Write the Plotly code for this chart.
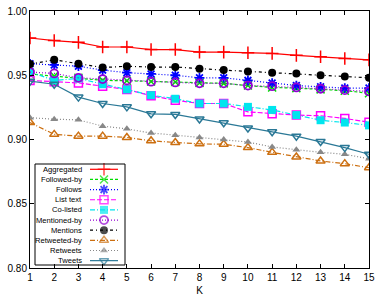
import plotly.graph_objects as go

K = list(range(1, 16))

aggregated   = [0.979, 0.977, 0.9756, 0.972, 0.972, 0.970, 0.970, 0.968, 0.968, 0.9675, 0.967, 0.9655, 0.9644, 0.963, 0.962]
followed_by  = [0.951, 0.9493, 0.948, 0.946, 0.9457, 0.9452, 0.9447, 0.944, 0.9437, 0.942, 0.9405, 0.940, 0.939, 0.938, 0.936]
follows      = [0.959, 0.958, 0.957, 0.954, 0.952, 0.951, 0.950, 0.948, 0.948, 0.946, 0.944, 0.942, 0.941, 0.940, 0.940]
list_text    = [0.946, 0.945, 0.944, 0.9415, 0.939, 0.934, 0.9306, 0.928, 0.928, 0.9215, 0.920, 0.919, 0.9185, 0.9164, 0.9135]
co_listed    = [0.9525, 0.946, 0.9475, 0.943, 0.939, 0.9345, 0.9317, 0.928, 0.928, 0.9254, 0.923, 0.919, 0.915, 0.9132, 0.911]
mentioned_by = [0.9525, 0.9514, 0.948, 0.947, 0.946, 0.945, 0.9444, 0.9437, 0.9437, 0.942, 0.9415, 0.9405, 0.9395, 0.9384, 0.9374]
mentions     = [0.9587, 0.962, 0.959, 0.956, 0.957, 0.9564, 0.9564, 0.955, 0.954, 0.953, 0.952, 0.9514, 0.950, 0.949, 0.948]
retweeted_by = [0.9132, 0.904, 0.9026, 0.9026, 0.9016, 0.899, 0.8977, 0.8966, 0.8963, 0.8937, 0.890, 0.8864, 0.8833, 0.8812, 0.878]
retweets     = [0.917, 0.9158, 0.9153, 0.9104, 0.9083, 0.905, 0.9034, 0.9016, 0.900, 0.898, 0.8942, 0.892, 0.890, 0.8885, 0.885]
tweets       = [0.9454, 0.943, 0.933, 0.928, 0.9254, 0.920, 0.9195, 0.916, 0.913, 0.909, 0.906, 0.9026, 0.8984, 0.8937, 0.8885]

y_ticks = [0.80, 0.85, 0.90, 0.95, 1.00]
y_tick_labels = ["0.80", "0.85", "0.90", "0.95", "1.00"]

series = [
    ("Aggregated",   aggregated,   "#ff0000", "solid",   "cross-thin-open",     9, 1.5),
    ("Followed-by",  followed_by,  "#00dd00", "3px,2px", "x-thin-open",         8, 1.5),
    ("Follows",      follows,      "#0000ff", "1px,2px", "asterisk-open",       8, 1.8),
    ("List text",    list_text,    "#ff00ff", "5px,2px", "square-open",         8, 1.5),
    ("Co-listed",    co_listed,    "#00e5ee", "5px,2px,1px,2px", "square",      8, 0),
    ("Mentioned-by", mentioned_by, "#9400d3", "1px,2px", "circle-open",         8, 1.8),
    ("Mentions",     mentions,     "#000000", "3px,3px,1px,3px", "circle",      8, 0),
    ("Retweeted-by", retweeted_by, "#cc6f10", "5px,2px,1px,2px", "triangle-up-open", 8, 1.5),
    ("Retweets",     retweets,     "#888888", "1px,2px", "triangle-up",         7, 0),
    ("Tweets",       tweets,       "#2a7896", "solid",   "triangle-down-open",  8, 1.5),
]

fig = go.Figure()
for name, vals, color, dash, sym, size, mlw in series:
    fig.add_trace(go.Scatter(
        x=K, y=vals, mode="lines+markers", name=name, showlegend=False,
        line=dict(color=color, width=1.2, dash=dash),
        marker=dict(symbol=sym, size=size, color=color, line=dict(color=color, width=mlw)),
    ))

# custom gnuplot-style legend (text right, sample on the right)
row_y0 = (268 - 169.3) / 257
row_dy = 10.15 / 257
sx0, sx1 = (90 - 30) / 339, (118 - 30) / 339
smid = (sx0 + sx1) / 2
text_x = (84 - 30) / 339
for i, (name, vals, color, dash, sym, size, mlw) in enumerate(series):
    yy = row_y0 - i * row_dy
    fig.add_trace(go.Scatter(
        x=[sx0, smid, sx1], y=[yy, yy, yy], xaxis="x2", yaxis="y2",
        mode="lines+markers", showlegend=False, hoverinfo="skip",
        line=dict(color=color, width=1.2, dash=dash),
        marker=dict(symbol=sym, size=[0, size, 0], color=color, line=dict(color=color, width=mlw)),
    ))
    fig.add_annotation(x=text_x, y=yy, xref="paper", yref="paper", text=name,
                       showarrow=False, xanchor="right", yanchor="middle",
                       font=dict(size=7.6, color="#000000", family="Liberation Sans, Arial, sans-serif"))

fig.add_shape(type="rect", xref="paper", yref="paper",
              x0=(35 - 30) / 339, x1=(125 - 30) / 339,
              y0=(268 - 265) / 257, y1=(268 - 164) / 257,
              line=dict(color="#000000", width=1), fillcolor="rgba(0,0,0,0)")

axis_common = dict(showgrid=False, zeroline=False, showline=True, linecolor="#000000",
                   linewidth=1, mirror="ticks", ticks="inside", ticklen=4, automargin=False,
                   tickcolor="#000000", tickfont=dict(size=10, color="#000000"))

fig.update_layout(
    width=389, height=305,
    margin=dict(l=30, r=20, t=11, b=37),
    paper_bgcolor="white", plot_bgcolor="white",
    font=dict(family="Liberation Sans, Arial, sans-serif", size=10, color="#000000"),
    xaxis=dict(range=[1, 15], tickvals=K, title=dict(text="K", standoff=4, font=dict(size=10)), **axis_common),
    yaxis=dict(range=[0.80, 1.00], tickvals=y_ticks, ticktext=y_tick_labels, **axis_common),
    xaxis2=dict(range=[0, 1], overlaying="x", visible=False),
    yaxis2=dict(range=[0, 1], overlaying="y", visible=False),
    showlegend=False,
)

fig.write_html("out.html", config={"displayModeBar": False},
               post_script="document.body.style.margin='0';")
